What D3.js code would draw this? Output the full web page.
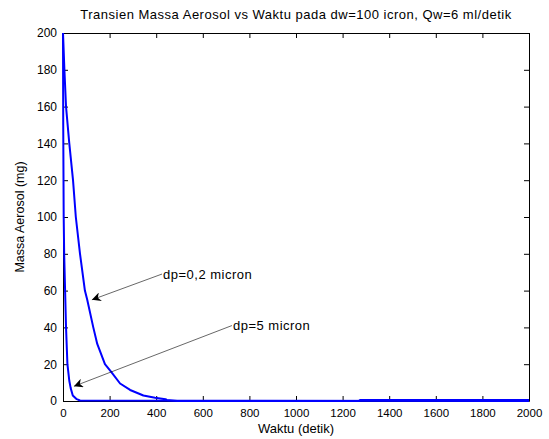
<!DOCTYPE html>
<html>
<head>
<meta charset="utf-8">
<script src="https://cdn.jsdelivr.net/npm/d3@7"></script>
<style>
body { margin: 0; background: #fff; }
svg { display: block; font-family: "Liberation Sans", Arial, sans-serif; }
</style>
</head>
<body>
<div id="chart"></div>
<script>
// data
var tickX = [0, 200, 400, 600, 800, 1000, 1200, 1400, 1600, 1800, 2000];
var tickY = [0, 20, 40, 60, 80, 100, 120, 140, 160, 180, 200];

var waktuA = [0, 6, 13, 27, 43, 55, 73, 94, 104, 130, 147, 180, 206, 245, 288, 345, 395, 440, 445, 490, 1270, 1275, 2000];
var massaA = [200, 180, 160, 140, 120, 100, 80, 60, 55, 40, 31, 20, 16, 9.5, 6, 3, 1.8, 1.0, 0.6, 0, 0, 0.6, 0.6];

var waktuB = [0, 1, 3, 5, 9, 13, 19, 27, 33, 42, 59, 73, 2000];
var massaB = [200, 150, 100, 80, 60, 40, 20, 11, 7, 3, 1, 0.3, 0];

var labels = ["dp=0,2 micron", "dp=5 micron"];
var arrowTail = [[425, 69], [725, 41]];
var arrowTip = [[124, 55], [47, 8]];

var W = 549, H = 439;
var margin = { left: 63, right: 20, top: 33, bottom: 38 };

function zip(xs, ys) {
    var out = [];
    for (var i = 0; i < xs.length; i++) out.push([xs[i], ys[i]]);
    return out;
}

var svg = d3.select("#chart").append("svg").attr("width", W).attr("height", H);

var x = d3.scaleLinear().domain([0, 2000]).range([margin.left, W - margin.right]);
var y = d3.scaleLinear().domain([0, 200]).range([H - margin.bottom, margin.top]);

var defs = svg.append("defs");
defs.append("clipPath").attr("id", "clip")
    .append("rect")
    .attr("x", margin.left - 1).attr("y", margin.top - 1)
    .attr("width", x(2000) - x(0) + 2).attr("height", y(0) - y(200) + 2);

defs.append("marker")
    .attr("id", "head")
    .attr("viewBox", "0 0 10 10")
    .attr("refX", 10).attr("refY", 5)
    .attr("markerWidth", 14).attr("markerHeight", 9)
    .attr("markerUnits", "userSpaceOnUse")
    .attr("orient", "auto")
    .append("path")
    .attr("d", "M0,0 L10,5 L0,10 L3,5 Z")
    .attr("fill", "#000");

// axes, MATLAB style with ticks inside on all sides
var tickLen = 5;
var fmt = d3.format("d");
svg.append("g").attr("class", "xax").attr("transform", "translate(0," + y(0) + ")")
    .call(d3.axisBottom(x).tickValues(tickX).tickFormat(fmt).tickSize(-tickLen).tickPadding(8).tickSizeOuter(0));
svg.append("g").attr("transform", "translate(0," + y(200) + ")")
    .call(d3.axisTop(x).tickValues(tickX).tickSize(-tickLen).tickFormat("").tickSizeOuter(0));
svg.append("g").attr("class", "yax").attr("transform", "translate(" + x(0) + ",0)")
    .call(d3.axisLeft(y).tickValues(tickY).tickFormat(fmt).tickSize(-tickLen).tickPadding(6).tickSizeOuter(0));
svg.append("g").attr("transform", "translate(" + x(2000) + ",0)")
    .call(d3.axisRight(y).tickValues(tickY).tickSize(-tickLen).tickFormat("").tickSizeOuter(0));

svg.selectAll(".domain").attr("stroke", "#000");
svg.selectAll(".tick line").attr("stroke", "#000");
svg.selectAll(".tick text").attr("fill", "#000")
    .attr("font-family", "Liberation Sans, Arial, sans-serif");
svg.selectAll(".xax .tick text").attr("font-size", 11.5);
svg.selectAll(".yax .tick text").attr("font-size", 12);

var line = d3.line().x(function (d) { return x(d[0]); }).y(function (d) { return y(d[1]); });

var curves = svg.append("g").attr("clip-path", "url(#clip)");
[zip(waktuA, massaA), zip(waktuB, massaB)].forEach(function (s) {
    curves.append("path")
        .attr("d", line(s))
        .attr("fill", "none")
        .attr("stroke", "#0000ff")
        .attr("stroke-width", 2)
        .attr("stroke-linejoin", "round");
});

// annotations
for (var i = 0; i < labels.length; i++) {
    svg.append("line")
        .attr("x1", x(arrowTail[i][0])).attr("y1", y(arrowTail[i][1]))
        .attr("x2", x(arrowTip[i][0])).attr("y2", y(arrowTip[i][1]))
        .attr("stroke", "#000").attr("stroke-width", 0.6)
        .attr("marker-end", "url(#head)");
    svg.append("text")
        .attr("x", x(arrowTail[i][0]) + 1).attr("y", y(arrowTail[i][1]) + 4.5)
        .attr("font-size", 13).attr("letter-spacing", 0.5)
        .text(labels[i]);
}

svg.append("text")
    .attr("x", (x(0) + x(2000)) / 2).attr("y", 19)
    .attr("text-anchor", "middle").attr("font-size", 13).attr("letter-spacing", 0.5)
    .text("Transien Massa Aerosol vs Waktu pada dw=100 icron, Qw=6 ml/detik");

svg.append("text")
    .attr("x", (x(0) + x(2000)) / 2).attr("y", 433)
    .attr("text-anchor", "middle").attr("font-size", 13)
    .text("Waktu (detik)");

svg.append("text")
    .attr("transform", "translate(24," + ((y(0) + y(200)) / 2) + ") rotate(-90)")
    .attr("text-anchor", "middle").attr("font-size", 12.5)
    .text("Massa Aerosol (mg)");
</script>
</body>
</html>
